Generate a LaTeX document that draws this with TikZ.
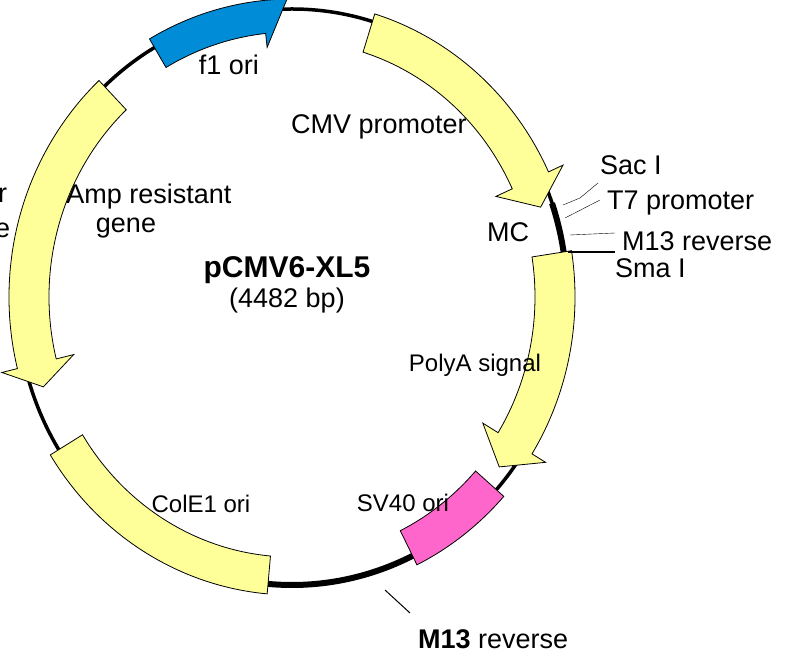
\documentclass[tikz,border=0pt]{standalone}
\usepackage{fontspec}
\setmainfont{Liberation Sans}
\begin{document}
\begin{tikzpicture}[x=1pt,y=1pt,
  lbl/.style={inner sep=0pt,font=\fontsize{27}{30}\selectfont},
  slbl/.style={inner sep=0pt,font=\fontsize{24}{28}\selectfont},
  feat/.style={draw=black,line width=0.8pt,line join=miter}]
\useasboundingbox (0,0) rectangle (795,664);
\definecolor{yel}{RGB}{255,255,153}
\definecolor{blu}{RGB}{0,140,214}
\definecolor{pnk}{RGB}{255,102,204}
\coordinate (O) at (292,367);
\newcommand\featarrow[4]{%
\filldraw[feat,fill=#4] ([shift={(#1:283 and 296)}]O) arc[start angle=#1,end angle=#2,x radius=283,y radius=296]
 -- ([shift={(#2:299 and 312)}]O) -- ([shift={(#3:263 and 276)}]O) -- ([shift={(#2:225 and 238)}]O)
 -- ([shift={(#2:243 and 256)}]O) arc[start angle=#2,end angle=#1,x radius=243,y radius=256] -- cycle;}
\newcommand\featbox[3]{%
\filldraw[feat,fill=#3] ([shift={(#1:285 and 298)}]O) arc[start angle=#1,end angle=#2,x radius=285,y radius=298]
 -- ([shift={(#2:247 and 260)}]O) arc[start angle=#2,end angle=#1,x radius=247,y radius=260] -- cycle;}
% backbone
\draw[line width=3.5pt] (O) ellipse[x radius=275,y radius=288];
\draw[line width=6pt] ([shift={(19:275 and 288)}]O) arc[start angle=19,end angle=7,x radius=275,y radius=288];
\draw[line width=6pt] ([shift={(-62:275 and 288)}]O) arc[start angle=-62,end angle=-96,x radius=275,y radius=288];
% features
\featarrow{73}{25}{19}{yel}
\featarrow{9}{-32}{-38}{yel}
\featarrow{133}{194}{199}{yel}
\featbox{-42}{-64}{pnk}
\featbox{-95}{-148}{yel}
\filldraw[feat,fill=blu] ([shift={(120:285 and 298)}]O) arc[start angle=120,end angle=91,x radius=285,y radius=298]
 -- ([shift={(96:238 and 251)}]O) -- ([shift={(96:252 and 265)}]O)
 arc[start angle=96,end angle=120,x radius=252,y radius=265] -- cycle;
% labels
\node[lbl] (f1) at (229,599) {f1 ori};
\node[lbl] (cmv) at (379,537) {CMV promoter};
\node[lbl] (amp) at (149,467) {Amp resistant};
\node[lbl] (amp2) at (126,436) {gene};
\node[lbl,anchor=west] (lr) at (-2,469) {r};
\node[lbl,anchor=west] (le) at (-5,434) {e};
\node[lbl] (mc) at (508,432) {MC};
\node[lbl,anchor=west] (sac) at (600,499) {Sac I};
\node[lbl,anchor=west] (t7) at (607,461) {T7 promoter};
\node[lbl,anchor=west] (m13) at (622,423) {M13 reverse};
\node[lbl,anchor=west] (sma) at (615,396) {Sma I};
\node[lbl,font=\fontsize{30}{34}\selectfont\bfseries] (name) at (287,394) {pCMV6-XL5};
\node[lbl] (bp) at (287,363) {(4482 bp)};
\node[slbl] (polya) at (475,299) {PolyA signal};
\node[slbl] (cole) at (201,160) {ColE1 ori};
\node[slbl] (sv) at (403,161) {SV40 ori};
\node[lbl,anchor=west] (m13b) at (418,25) {\textbf{M13} reverse};
% ticks
\coordinate (s0) at (563,459); \coordinate (s1) at (580,466); \coordinate (s2) at (598,481);
\draw[thin] (s0) -- (s1) -- (s2);
\coordinate (t0) at (565,446); \coordinate (t1) at (600,464);
\draw[thin] (t0) -- (t1);
\coordinate (m0) at (570,429); \coordinate (m1) at (615,431);
\draw[thin] (m0) -- (m1);
\coordinate (a0) at (568,412); \coordinate (a1) at (615,412);
\draw[line width=1.2pt] (a0) -- (a1);
\coordinate (b0) at (385,74); \coordinate (b1) at (410,51);
\draw[line width=1pt] (b0) -- (b1);
\end{tikzpicture}
\end{document}
